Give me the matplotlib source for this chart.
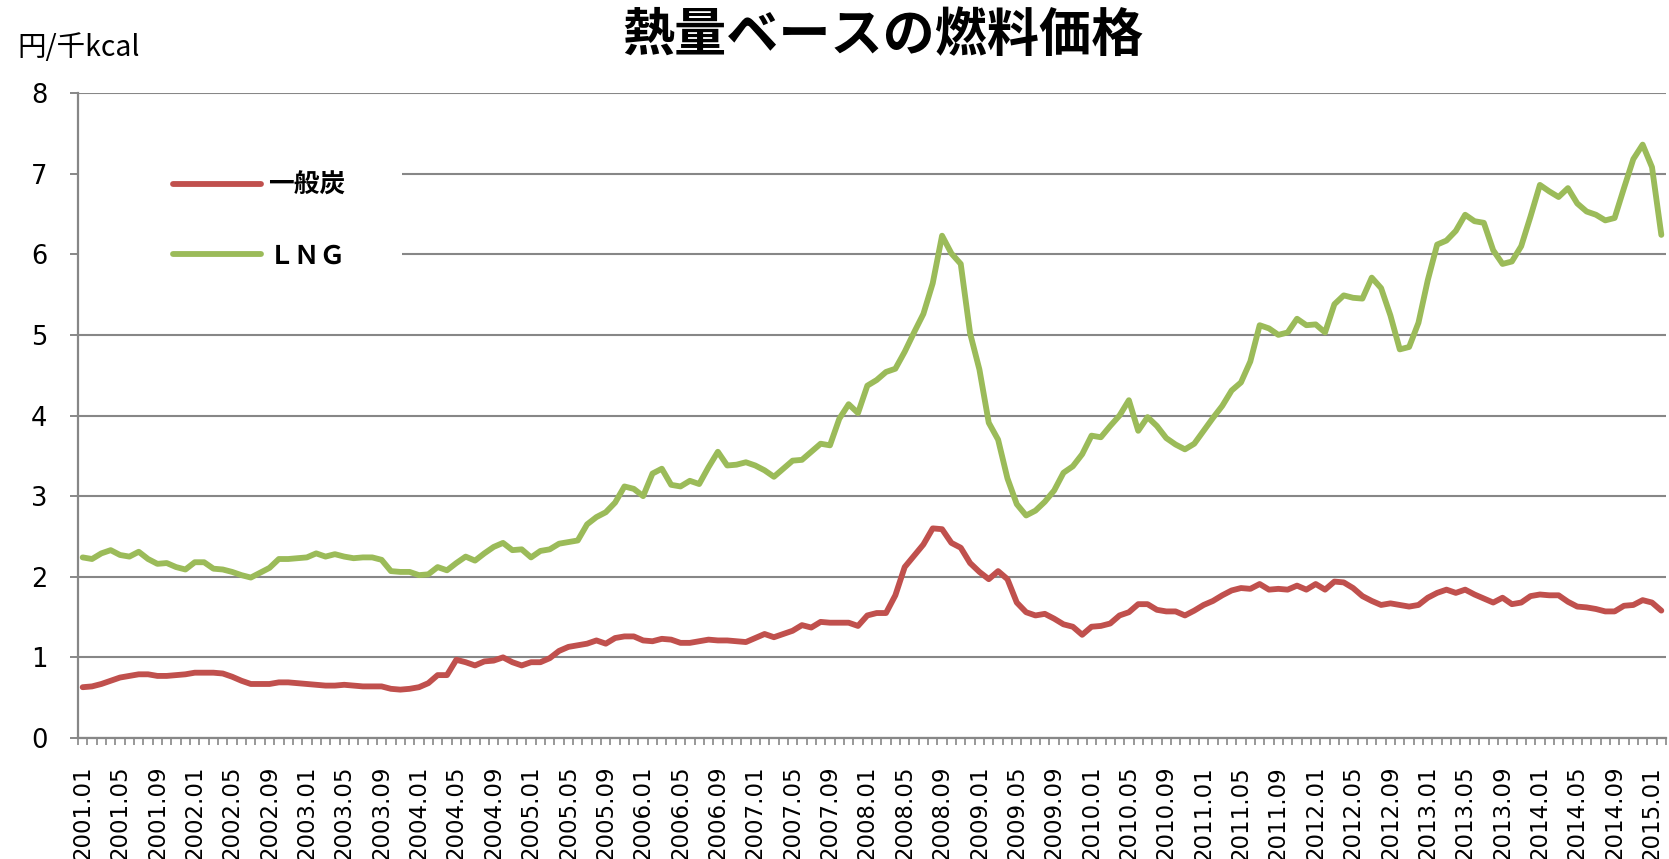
import matplotlib
import numpy as np

matplotlib.use('Agg')
import matplotlib.pyplot as plt
from matplotlib.patches import Rectangle

# monthly categories 2001.01 .. 2015.02
months = [f"{2001 + k // 12}.{k % 12 + 1:02d}" for k in range(170)]

# 一般炭 (yen / 1000 kcal)
coal = [
    0.63, 0.64, 0.67, 0.71, 0.75, 0.77, 0.79, 0.79, 0.77, 0.77,
    0.78, 0.79, 0.81, 0.81, 0.81, 0.80, 0.76, 0.71, 0.67, 0.67,
    0.67, 0.69, 0.69, 0.68, 0.67, 0.66, 0.65, 0.65, 0.66, 0.65,
    0.64, 0.64, 0.64, 0.61, 0.60, 0.61, 0.63, 0.68, 0.78, 0.78,
    0.97, 0.94, 0.90, 0.95, 0.96, 1.00, 0.94, 0.90, 0.94, 0.94,
    0.99, 1.08, 1.13, 1.15, 1.17, 1.21, 1.17, 1.24, 1.26, 1.26,
    1.21, 1.20, 1.23, 1.22, 1.18, 1.18, 1.20, 1.22, 1.21, 1.21,
    1.20, 1.19, 1.24, 1.29, 1.25, 1.29, 1.33, 1.40, 1.37, 1.44,
    1.43, 1.43, 1.43, 1.39, 1.52, 1.55, 1.55, 1.77, 2.12, 2.26,
    2.40, 2.60, 2.59, 2.42, 2.36, 2.17, 2.06, 1.97, 2.07, 1.97,
    1.68, 1.56, 1.52, 1.54, 1.48, 1.41, 1.38, 1.28, 1.38, 1.39,
    1.42, 1.52, 1.56, 1.66, 1.66, 1.59, 1.57, 1.57, 1.52, 1.58,
    1.65, 1.70, 1.77, 1.83, 1.86, 1.85, 1.91, 1.84, 1.85, 1.84,
    1.89, 1.84, 1.91, 1.84, 1.94, 1.93, 1.86, 1.76, 1.70, 1.65,
    1.67, 1.65, 1.63, 1.65, 1.74, 1.80, 1.84, 1.80, 1.84, 1.78,
    1.73, 1.68, 1.74, 1.66, 1.68, 1.76, 1.78, 1.77, 1.77, 1.69,
    1.63, 1.62, 1.60, 1.57, 1.57, 1.64, 1.65, 1.71, 1.68, 1.58,
]

# LNG (yen / 1000 kcal)
lng = [
    2.24, 2.22, 2.29, 2.33, 2.27, 2.25, 2.31, 2.22, 2.16, 2.17,
    2.12, 2.09, 2.18, 2.18, 2.10, 2.09, 2.06, 2.02, 1.99, 2.05,
    2.11, 2.22, 2.22, 2.23, 2.24, 2.29, 2.25, 2.28, 2.25, 2.23,
    2.24, 2.24, 2.21, 2.07, 2.06, 2.06, 2.02, 2.03, 2.12, 2.08,
    2.17, 2.25, 2.20, 2.29, 2.37, 2.42, 2.33, 2.34, 2.24, 2.32,
    2.34, 2.41, 2.43, 2.45, 2.65, 2.74, 2.80, 2.92, 3.12, 3.09,
    3.00, 3.28, 3.34, 3.14, 3.12, 3.19, 3.15, 3.36, 3.55, 3.38,
    3.39, 3.42, 3.38, 3.32, 3.24, 3.34, 3.44, 3.45, 3.55, 3.65,
    3.63, 3.96, 4.14, 4.03, 4.37, 4.44, 4.54, 4.58, 4.79, 5.03,
    5.26, 5.64, 6.23, 6.01, 5.88, 5.02, 4.57, 3.91, 3.70, 3.22,
    2.90, 2.76, 2.82, 2.93, 3.07, 3.29, 3.37, 3.52, 3.75, 3.73,
    3.87, 4.00, 4.19, 3.81, 3.98, 3.87, 3.72, 3.64, 3.58, 3.65,
    3.81, 3.97, 4.12, 4.31, 4.41, 4.67, 5.12, 5.08, 5.00, 5.03,
    5.20, 5.12, 5.13, 5.03, 5.38, 5.49, 5.46, 5.45, 5.71, 5.58,
    5.24, 4.82, 4.85, 5.15, 5.68, 6.12, 6.17, 6.29, 6.49, 6.41,
    6.39, 6.05, 5.88, 5.91, 6.10, 6.47, 6.86, 6.78, 6.71, 6.82,
    6.63, 6.53, 6.49, 6.42, 6.45, 6.82, 7.18, 7.36, 7.08, 6.24,
]

series_names = ['一般炭', 'ＬＮＧ']
label_step = 4
y_ticks = list(range(0, 9))

RED = '#C0504D'
GREEN = '#9BBB59'
GRAY = '#878787'
CJK = ['Noto Sans CJK JP', 'DejaVu Sans']

W, H = 1669, 859
fig = plt.figure(figsize=(W / 100, H / 100), dpi=100)
ax = fig.add_axes([78 / W, 121 / H, 1588 / W, 645 / H])

x = np.arange(len(months))
ax.plot(x, coal, color=RED, lw=4.2, solid_joinstyle='round',
        solid_capstyle='round', label=series_names[0], zorder=3)
ax.plot(x, lng, color=GREEN, lw=4.2, solid_joinstyle='round',
        solid_capstyle='round', label=series_names[1], zorder=3)

ax.set_xlim(-0.5, len(months) - 0.5)
ax.set_ylim(0, 8)

# y axis
ax.set_yticks(y_ticks)
ax.set_yticklabels([str(v) for v in y_ticks], fontsize=18.5, family='DejaVu Sans')
ax.yaxis.grid(True, color=GRAY, lw=1.5)
ax.set_axisbelow(True)
ax.tick_params(axis='y', length=6, width=1.4, color=GRAY, pad=16)

# x axis: labels every 4 months, tick marks at every category boundary
tick_idx = list(range(0, len(months), label_step))
ax.set_xticks(tick_idx)
ax.set_xticklabels([months[k] for k in tick_idx], rotation=90,
                   fontsize=16.5, family='DejaVu Sans', va='top')
ax.set_xticks(np.arange(-0.5, len(months), 1), minor=True)
ax.tick_params(axis='x', which='major', length=0, pad=20)
ax.tick_params(axis='x', which='minor', length=5, width=1.2, color=GRAY)

for side in ['top', 'right']:
    ax.spines[side].set_visible(False)
for side in ['left', 'bottom']:
    ax.spines[side].set_color(GRAY)
    ax.spines[side].set_linewidth(1.6)

# white legend area hides the grid lines behind it
ax.add_patch(Rectangle((0, 0.656), 0.204, 0.288, transform=ax.transAxes,
                       facecolor='white', edgecolor='none', zorder=1))
ax.legend(loc='upper left', bbox_to_anchor=(0.060, 0.878), frameon=False,
          handlelength=3.4, handletextpad=0.3, labelspacing=1.7,
          borderpad=0, borderaxespad=0,
          prop={'family': CJK, 'size': 18.5, 'weight': 'bold'})

fig.text(0.529, 1 - 35 / H, '熱量ベースの燃料価格', ha='center', va='center',
         fontsize=37.5, fontweight='bold', family=CJK)
fig.text(17 / W, 1 - 48 / H, '円/千kcal', ha='left', va='center',
         fontsize=20.5, family=CJK)

fig.savefig('out.png', dpi=100)
